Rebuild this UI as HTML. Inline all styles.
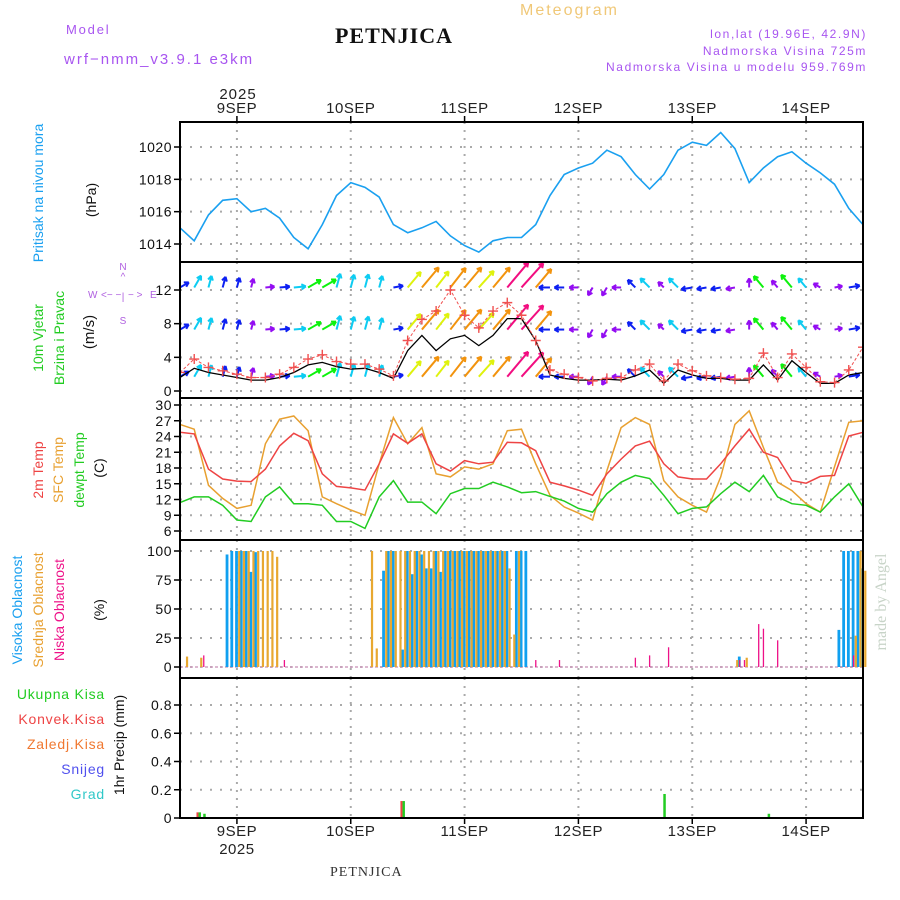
<!DOCTYPE html>
<html><head><meta charset="utf-8"><style>
html,body{margin:0;padding:0;background:#fff;}
svg{display:block;}
text{font-family:"Liberation Sans",sans-serif;}
</style></head><body>
<svg id="chart" width="900" height="900" viewBox="0 0 900 900" xmlns="http://www.w3.org/2000/svg">
<defs>
<clipPath id="clipWind"><rect x="181" y="263" width="681" height="134"/></clipPath>
</defs>
<g>
<text x="66" y="34" font-size="13" fill="#a855f0" letter-spacing="1.8">Model</text>
<text x="64" y="64" font-size="15" fill="#a855f0" letter-spacing="2">wrf−nmm_v3.9.1 e3km</text>
<text x="394" y="43" font-size="22" font-weight="bold" text-anchor="middle" fill="#111" letter-spacing="1" style="font-family:'Liberation Serif',serif">PETNJICA</text>
<text x="520" y="15" font-size="16" fill="#f0c878" letter-spacing="2">Meteogram</text>
<text x="867" y="38" font-size="12" fill="#a855f0" text-anchor="end" letter-spacing="1.6">lon,lat (19.96E, 42.9N)</text>
<text x="867" y="55" font-size="12" fill="#a855f0" text-anchor="end" letter-spacing="1.6">Nadmorska Visina 725m</text>
<text x="867" y="71" font-size="12" fill="#a855f0" text-anchor="end" letter-spacing="1.6">Nadmorska Visina u modelu 959.769m</text>
<text x="238" y="99" font-size="15" fill="#222" text-anchor="middle" letter-spacing="1">2025</text>
<text x="330" y="876" font-size="14" fill="#333" letter-spacing="1" style="font-family:'Liberation Serif',serif">PETNJICA</text>
<text transform="translate(886,602) rotate(-90)" font-size="16" fill="#c8d4c8" text-anchor="middle" style="font-family:'Liberation Serif',serif">made by Angel</text>
</g>
<g id="leftlabels">
<text transform="translate(43,193) rotate(-90)" font-size="14" fill="#1aa0f0" text-anchor="middle">Pritisak na nivou mora</text>
<text transform="translate(96,200) rotate(-90)" font-size="14" fill="#111" text-anchor="middle">(hPa)</text>
<text transform="translate(43,338) rotate(-90)" font-size="14" fill="#22cc22" text-anchor="middle">10m Vjetar</text>
<text transform="translate(64,338) rotate(-90)" font-size="14" fill="#22cc22" text-anchor="middle">Brzina i Pravac</text>
<text transform="translate(94,332) rotate(-90)" font-size="15" fill="#111" text-anchor="middle">(m/s)</text>
<g fill="#b060e0" font-size="10">
<text x="123" y="270" text-anchor="middle">N</text>
<text x="123" y="280" text-anchor="middle">^</text>
<text x="123" y="300" text-anchor="middle">|</text>
<text x="123" y="324" text-anchor="middle">S</text>
<text x="88" y="298">W</text>
<text x="101" y="298">&lt;− −</text>
<text x="128" y="298">− &gt;</text>
<text x="150" y="298">E</text>
</g>
<text transform="translate(43,470) rotate(-90)" font-size="14" fill="#ee4444" text-anchor="middle">2m Temp</text>
<text transform="translate(63,470) rotate(-90)" font-size="14" fill="#e8a030" text-anchor="middle">SFC Temp</text>
<text transform="translate(84,470) rotate(-90)" font-size="14" fill="#22cc22" text-anchor="middle">dewpt Temp</text>
<text transform="translate(104,468) rotate(-90)" font-size="14" fill="#111" text-anchor="middle">(C)</text>
<text transform="translate(22,610) rotate(-90)" font-size="14" fill="#1aa0f0" text-anchor="middle">Visoka Oblacnost</text>
<text transform="translate(43,610) rotate(-90)" font-size="14" fill="#e8a030" text-anchor="middle">Srednja Oblacnost</text>
<text transform="translate(64,610) rotate(-90)" font-size="14" fill="#ee1188" text-anchor="middle">Niska Oblacnost</text>
<text transform="translate(104,610) rotate(-90)" font-size="14" fill="#111" text-anchor="middle">(%)</text>
<g font-size="14" text-anchor="end" letter-spacing="0.8">
<text x="105" y="699" fill="#22cc22">Ukupna  Kisa</text>
<text x="105" y="724" fill="#ee4444">Konvek.Kisa</text>
<text x="105" y="749" fill="#f07830">Zaledj.Kisa</text>
<text x="105" y="774" fill="#5050ee">Snijeg</text>
<text x="105" y="799" fill="#30c8c8">Grad</text>
</g>
<text transform="translate(124,745) rotate(-90)" font-size="14" fill="#111" text-anchor="middle">1hr Precip (mm)</text>
</g>
<g id="plots"></g>
</svg>
<script>
// ---------- DATA ----------
const dayLabels = ["9SEP","10SEP","11SEP","12SEP","13SEP","14SEP"];
const dayHours = [12,36,60,84,108,132];
const pressureTicks = [1014,1016,1018,1020];
const windTicks = [0,4,8,12];
const tempTicks = [6,9,12,15,18,21,24,27,30];
const cloudTicks = [0,25,50,75,100];
const precipTicks = [0,0.2,0.4,0.6,0.8];
const precipTickLabels = ["0","0.2","0.4","0.6","0.8"];
// 3-hourly series, hour 0 = 8 SEP 12UTC
const pressure = [1015.0,1014.2,1015.8,1016.7,1016.8,1016.0,1016.2,1015.6,1014.4,1013.7,1015.2,1017.0,1017.8,1017.5,1016.9,1015.2,1014.7,1015.0,1015.4,1014.5,1013.9,1013.5,1014.2,1014.4,1014.4,1015.2,1017.0,1018.3,1018.7,1019.0,1019.8,1019.4,1018.3,1017.4,1018.3,1019.8,1020.3,1020.1,1020.9,1019.9,1017.8,1018.7,1019.4,1019.7,1019.0,1018.4,1017.7,1016.2,1015.2];
const temp2m = [24.8,24.5,17.8,15.9,15.5,15.4,17.8,22.2,24.6,23.2,16.9,14.5,14.2,13.8,18.8,24.5,22.7,24.5,18.8,17.4,19.4,18.8,19.1,22.9,22.8,21.3,15.3,14.6,13.8,12.8,16.9,19.7,22.2,23.1,18.8,16.3,15.9,15.9,18.8,22.2,25.4,21.0,20.0,15.6,15.1,16.4,16.6,24.1,24.8];
const tempSfc = [26.3,25.4,14.7,12.2,10.3,10.9,22.6,27.3,27.9,25.1,12.5,11.2,10.0,9.0,18.8,27.6,22.6,25.7,16.9,16.3,18.2,17.8,18.8,25.1,25.4,18.8,12.8,10.6,9.4,8.1,17.5,25.7,27.6,26.3,15.6,12.5,10.9,9.6,16.3,26.3,28.9,21.9,15.3,13.7,11.2,9.6,18.2,26.7,27.0];
const tempDew = [11.4,12.5,12.5,10.9,8.1,7.8,12.5,14.4,11.2,11.2,10.9,7.8,7.8,6.5,12.5,15.6,11.5,11.5,9.3,13.1,14.1,14.1,15.3,14.4,13.3,13.5,12.6,11.7,10.3,9.6,13.1,15.3,16.6,16.0,12.8,9.3,10.3,10.6,13.1,15.3,13.5,16.6,12.5,11.2,10.9,9.6,12.5,15.0,10.6];
const windSpeed = [1.6,2.7,2.2,1.9,1.6,1.3,1.3,1.6,2.2,3.1,3.4,2.9,2.6,2.7,2.2,1.5,4.8,6.6,4.8,6.2,6.6,5.4,6.6,8.6,8.6,6.0,1.9,1.5,1.3,1.3,1.4,1.3,1.8,2.5,0.9,2.5,1.9,1.5,1.5,1.3,1.3,3.1,1.3,3.6,2.2,0.9,0.9,1.9,2.2];
const windGust = [2.2,3.8,2.8,2.4,2.0,1.6,1.6,2.0,2.8,3.8,4.3,3.5,3.2,3.2,2.6,1.8,6.0,8.5,9.5,12.0,9.0,7.5,9.5,10.5,9.0,6.0,2.5,2.0,1.6,1.2,1.5,1.6,2.5,3.2,1.2,3.2,2.4,1.8,1.6,1.4,1.5,4.5,1.6,4.4,2.8,1.1,1.0,2.5,5.2];
const windDir = [60,30,15,15,15,15,85,85,85,60,60,15,15,15,15,80,40,40,38,38,40,42,40,40,42,40,270,270,270,210,210,270,315,315,315,315,260,260,260,260,0,320,320,320,320,300,80,80,80];
// hourly cloud cover (%) hour 0..144
const cloudHigh = [0,0,0,0,0,0,0,0,0,0,97,100,100,100,100,82,99,0,0,0,0,0,0,0,0,0,0,0,0,0,0,0,0,0,0,0,0,0,0,0,0,0,0,83,100,100,0,15,100,80,100,97,85,85,100,82,100,100,100,100,100,100,100,100,100,100,100,100,100,100,0,100,100,100,0,0,0,0,0,0,0,0,0,0,0,0,0,0,0,0,0,0,0,0,0,0,0,0,0,0,0,0,0,0,0,0,0,0,0,0,0,0,0,0,0,0,0,0,9,0,0,0,0,0,0,0,0,0,0,0,0,0,0,0,0,0,0,0,0,32,100,100,100,100,85];
const cloudMid = [0,9,0,0,8,0,0,0,0,0,0,0,100,100,100,100,100,100,100,100,95,0,0,0,0,0,0,0,0,0,0,0,0,0,0,0,0,0,0,0,100,16,0,100,100,100,100,100,100,100,100,100,100,100,100,100,100,100,100,100,100,100,100,100,100,100,100,100,100,85,28,100,0,0,0,0,0,0,0,0,0,0,0,0,0,0,0,0,0,0,0,0,0,0,0,0,0,0,0,0,0,0,0,0,0,0,0,0,0,0,0,0,0,0,0,0,0,6,0,8,0,0,0,0,0,0,0,0,0,0,0,0,0,0,0,0,0,0,0,0,0,0,27,100,83];
const cloudLow = [0,0,0,0,0,10,0,0,0,0,0,0,0,0,0,0,0,0,0,0,0,0,6,0,0,0,0,0,0,0,0,0,0,0,0,0,0,0,0,0,0,0,0,0,0,0,0,0,0,0,0,0,0,0,0,0,0,0,0,0,0,0,0,0,0,0,0,0,0,0,0,0,0,0,0,6,0,0,0,0,6,0,0,0,0,0,0,0,0,0,0,0,0,0,0,0,8,0,0,10,0,0,0,17,0,0,0,0,0,0,0,0,0,0,0,0,0,0,6,6,0,0,37,33,0,0,23,0,0,0,0,0,0,0,0,0,0,0,0,0,0,0,10,0,0];
const precipHours = [4,5,47,102,124];
const precipTotal = [0.04,0.03,0.12,0.17,0.03];
const precipConv = [0.04,0.0,0.12,0.0,0.0];

// ---------- AXES ----------
const X0=180, X1=863, HMAX=144;
const xH = h => X0 + (X1-X0)*h/HMAX;
const lin = (d0,d1,r0,r1) => v => r0 + (v-d0)*(r1-r0)/(d1-d0);
const yP = lin(1014,1020,244,147);
const yW = lin(0,12,391,290);
const yT = lin(6,30,531,405);
const yC = lin(0,100,667,551);
const yR = lin(0,0.8,818,705);
const panels = [
 {name:"pressure-panel",top:122,bot:262,ticks:pressureTicks,labels:pressureTicks.map(String),y:yP},
 {name:"wind-panel",top:262,bot:398,ticks:windTicks,labels:windTicks.map(String),y:yW},
 {name:"temperature-panel",top:398,bot:540,ticks:tempTicks,labels:tempTicks.map(String),y:yT},
 {name:"cloud-panel",top:540,bot:678,ticks:cloudTicks,labels:cloudTicks.map(String),y:yC},
 {name:"precip-panel",top:678,bot:818,ticks:precipTicks,labels:precipTickLabels,y:yR}
];
const NS="http://www.w3.org/2000/svg";
const root=document.getElementById('plots');
function mk(tag,attrs,parent){const e=document.createElementNS(NS,tag);for(const k in attrs)e.setAttribute(k,attrs[k]);(parent||root).appendChild(e);return e;}
function pts(arr,yf){return arr.map((v,i)=>xH(i*3).toFixed(1)+","+yf(v).toFixed(1)).join(" ");}

panels.forEach(p=>{
 const g=mk('g',{});
 
 
 dayHours.forEach(h=>{
  const l=mk('line',{x1:xH(h),x2:xH(h),y1:p.top,y2:p.bot,stroke:'#aaa','stroke-width':2,'stroke-dasharray':'2,6'},g);
  
  
 });
 p.ticks.forEach((t,i)=>{
  const yy=p.y(t);
  const l=mk('line',{x1:X0,x2:X1,y1:yy,y2:yy,stroke:'#aaa','stroke-width':2,'stroke-dasharray':'2,8'},g);
  
  
  mk('line',{x1:X0-6,x2:X0,y1:yy,y2:yy,stroke:'#000','stroke-width':1.5},g);
  const tx=mk('text',{x:X0-8,y:yy+5,'font-size':14,'text-anchor':'end',fill:'#111','letter-spacing':'0.5'},g);
  tx.textContent=p.labels[i];
  
  
 });
 p.g=g;
});

// pressure
const pl=mk('polyline',{points:pts(pressure,yP),fill:'none',stroke:'#1aa0f0','stroke-width':1.6},panels[0].g);



// wind
const wg=mk('g',{'clip-path':'url(#clipWind)'},panels[1].g);


function windColor(s){let hue; if(s<1.5)hue=275; else if(s<2)hue=235; else if(s<3)hue=190; else if(s<4.5)hue=120; else if(s<5.5)hue=65; else if(s<7)hue=35; else hue=330; return 'hsl('+hue+',90%,50%)';}
const rowBase=[12.3,7.3,1.7,-4.2];
rowBase.forEach(b=>{
 windSpeed.forEach((s,i)=>{
  const a=windDir[i]*Math.PI/180, L=5+3.2*s;
  const x0=xH(i*3), y0=yW(b);
  const x1=x0+L*Math.sin(a), y1=y0-L*Math.cos(a);
  const c=windColor(s);
  const ar=mk('g',{stroke:c,'stroke-width':2,fill:'none'},wg);
  
  
  mk('line',{x1:x0,y1:y0,x2:x1,y2:y1},ar);
  const hl=5;
  [2.6,-2.6].forEach(d=>{const aa=a+Math.PI+d*0.2; mk('line',{x1:x1,y1:y1,x2:x1+hl*Math.sin(aa),y2:y1-hl*Math.cos(aa)},ar);});
 });
});
const sp=mk('polyline',{points:pts(windSpeed,yW),fill:'none',stroke:'#000','stroke-width':1.3},wg);


const gp=mk('polyline',{points:pts(windGust,yW),fill:'none',stroke:'#f05050','stroke-width':1,'stroke-dasharray':'3,2'},wg);


windGust.forEach((v,i)=>{
 const x=xH(i*3),y=yW(v);
 const m=mk('path',{d:`M${x-5},${y}H${x+5}M${x},${y-5}V${y+5}`,stroke:'#f05050','stroke-width':1.4},wg);
 
 
});

// temperature
[[tempSfc,'#e8a030','sfc-temp-line'],[temp2m,'#ee4444','temp-2m-line'],[tempDew,'#22cc22','dewpoint-line']].forEach(([arr,c,n])=>{
 const l=mk('polyline',{points:pts(arr,yT),fill:'none',stroke:c,'stroke-width':1.5},panels[2].g);
 
 
});

// clouds
const cg=panels[3].g;
mk('line',{x1:X0,x2:X1,y1:yC(0),y2:yC(0),stroke:'#d0a0c0','stroke-width':1.5,'stroke-dasharray':'3,2'},cg);
cloudHigh.forEach((v,h)=>{ if(v<=0)return; const y=yC(v);
 const r=mk('rect',{x:xH(h)-1.8,y:y,width:2.8,height:yC(0)-y,fill:'#10a0f0'},cg);
 
 
});
cloudMid.forEach((v,h)=>{ if(v<=0)return; const y=yC(v);
 const r=mk('rect',{x:xH(h)+1.2,y:y,width:2.2,height:yC(0)-y,fill:'#e8a830'},cg);
 
 
});
cloudLow.forEach((v,h)=>{ if(v<=0)return; const y=yC(v);
 const r=mk('rect',{x:xH(h)-0.6,y:y,width:1.3,height:yC(0)-y,fill:'#ee1188'},cg);
 
 
});

// precip
const rg=panels[4].g;
precipHours.forEach((h,i)=>{
 const yt=yR(precipTotal[i]);
 const r=mk('rect',{x:xH(h)-0.5,y:yt,width:2.5,height:yR(0)-yt,fill:'#22cc22'},rg);
 
 
 if(precipConv[i]>0){const yc=yR(precipConv[i]);
  const c=mk('rect',{x:xH(h)-2.5,y:yc,width:2,height:yR(0)-yc,fill:'#ee4444'},rg);
  
  }
});

// frames and x labels
panels.forEach(p=>{
 const f=mk('rect',{x:X0,y:p.top,width:X1-X0,height:p.bot-p.top,fill:'none',stroke:'#000','stroke-width':2});
 
 
});
dayHours.forEach((h,i)=>{
 const x=xH(h);
 mk('line',{x1:x,x2:x,y1:116,y2:122,stroke:'#000','stroke-width':1.5});
 mk('line',{x1:x,x2:x,y1:818,y2:824,stroke:'#000','stroke-width':1.5});
 const t=mk('text',{x:x,y:113,'font-size':15,'text-anchor':'middle',fill:'#222','letter-spacing':'0.5'});
 t.textContent=dayLabels[i];
 
 
 const b=mk('text',{x:x,y:836,'font-size':15,'text-anchor':'middle',fill:'#222','letter-spacing':'0.5'});
 b.textContent=dayLabels[i];
 
 
});
const yr=mk('text',{x:xH(12),y:854,'font-size':15,'text-anchor':'middle',fill:'#222','letter-spacing':'0.5'});
yr.textContent="2025";


</script>
</body></html>
